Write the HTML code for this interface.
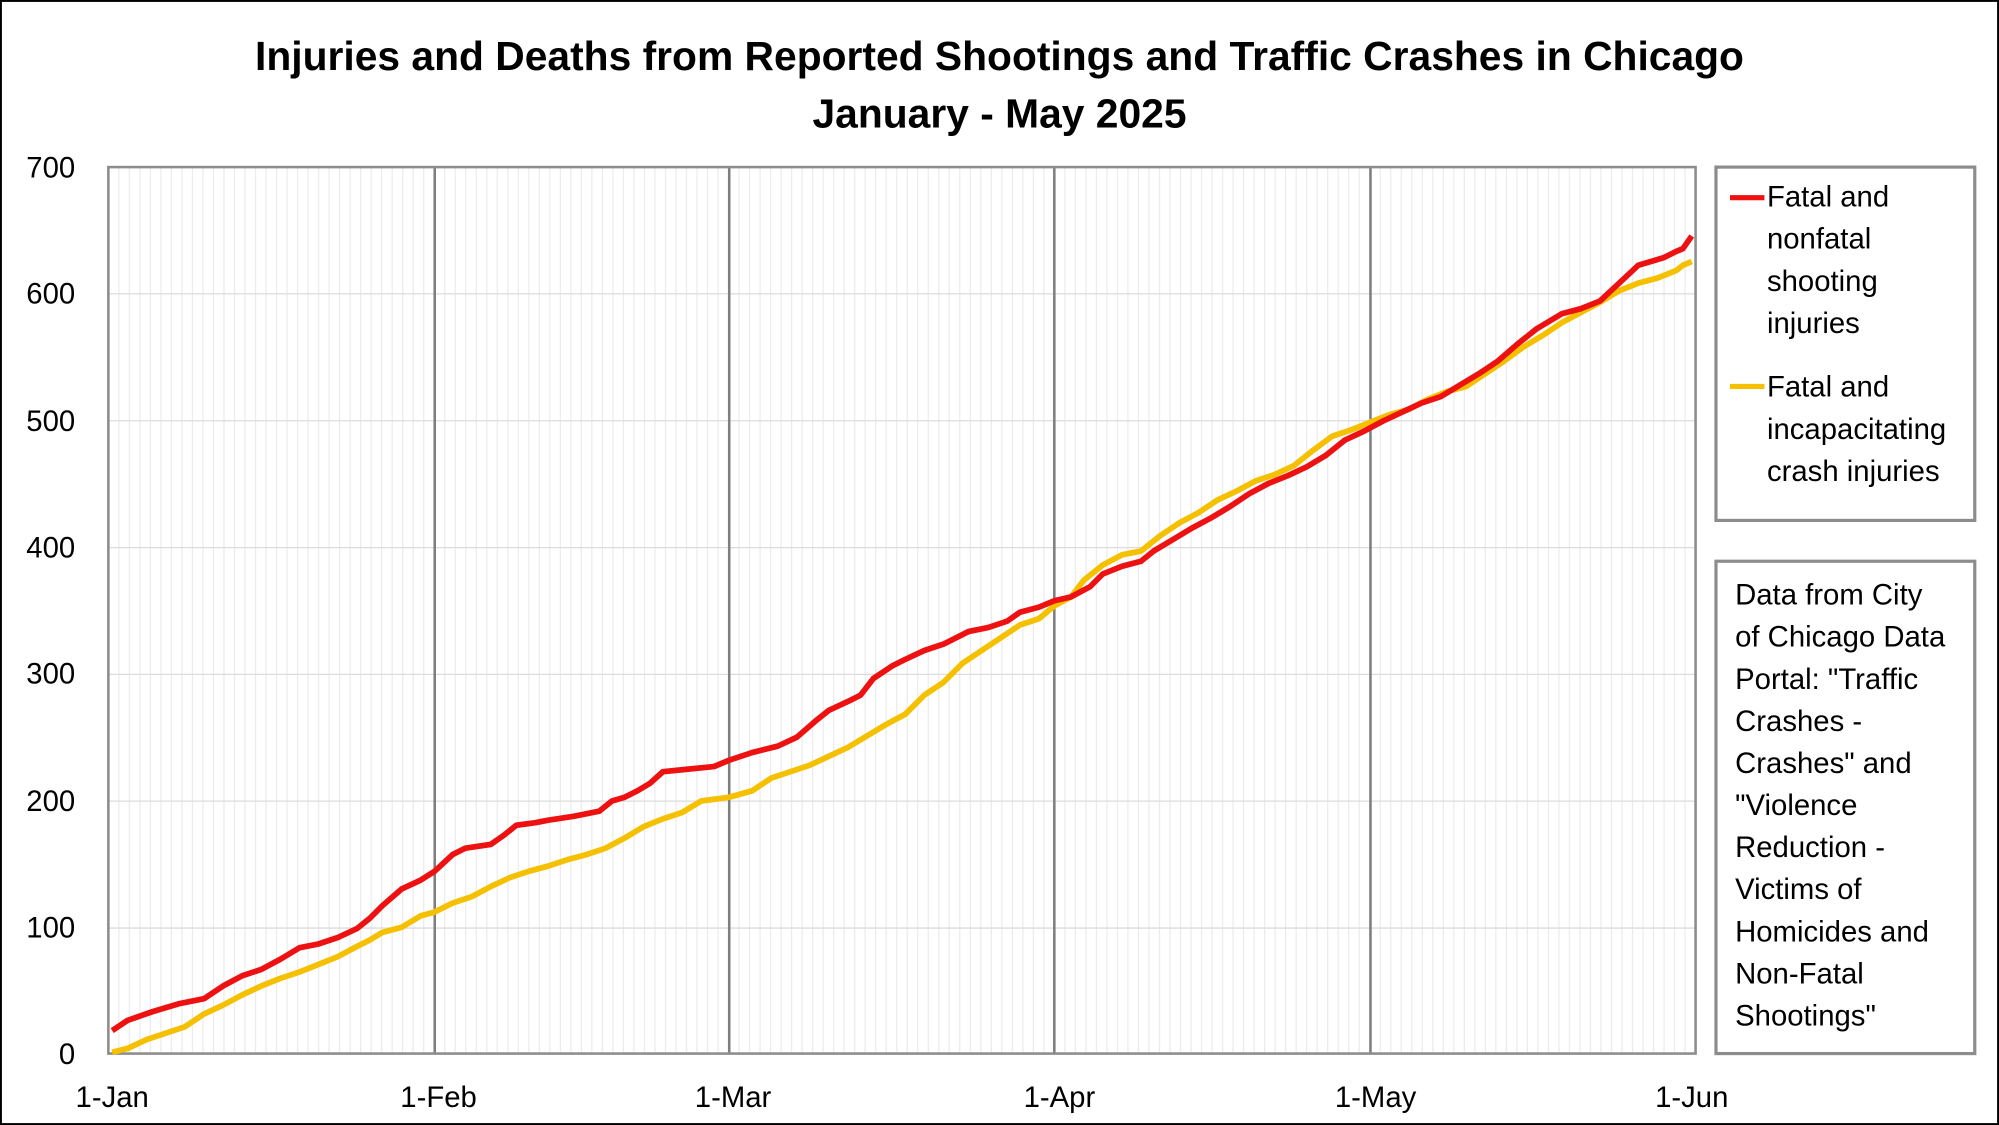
<!DOCTYPE html>
<html><head><meta charset="utf-8"><style>
html,body{margin:0;padding:0;background:#fff;}
svg{display:block;}
text{font-family:"Liberation Sans",Arial,sans-serif;fill:#000;}
</style></head><body>
<svg width="1999" height="1125" viewBox="0 0 1568 882" preserveAspectRatio="none" xmlns="http://www.w3.org/2000/svg">
<rect x="0.5" y="0.5" width="1567" height="881" fill="#fff" stroke="#000" stroke-width="2"/>
<text x="784" y="55" font-size="32" font-weight="bold" text-anchor="middle">Injuries and Deaths from Reported Shootings and Traffic Crashes in Chicago</text>
<text x="784" y="100" font-size="32" font-weight="bold" text-anchor="middle">January - May 2025</text>
<g id="minor" stroke="#ececec" stroke-width="1"></g>
<g stroke="#dcdcdc" stroke-width="1">
<line x1="85" x2="1330" y1="727.6" y2="727.6"/><line x1="85" x2="1330" y1="628.1" y2="628.1"/>
<line x1="85" x2="1330" y1="528.7" y2="528.7"/><line x1="85" x2="1330" y1="429.3" y2="429.3"/>
<line x1="85" x2="1330" y1="329.9" y2="329.9"/><line x1="85" x2="1330" y1="230.4" y2="230.4"/>
</g>
<g stroke="#7f7f7f" stroke-width="2">
<line x1="341" x2="341" y1="131" y2="826"/><line x1="572" x2="572" y1="131" y2="826"/>
<line x1="827" x2="827" y1="131" y2="826"/><line x1="1075" x2="1075" y1="131" y2="826"/>
</g>
<rect x="85" y="131" width="1245" height="695" fill="none" stroke="#8c8c8c" stroke-width="2"/>
<g font-size="23" text-anchor="end">
<text x="59" y="834">0</text><text x="59" y="735">100</text><text x="59" y="636">200</text>
<text x="59" y="536">300</text><text x="59" y="437">400</text><text x="59" y="338">500</text>
<text x="59" y="238">600</text><text x="59" y="139">700</text>
</g>
<g font-size="23" text-anchor="middle">
<text x="88" y="868">1-Jan</text><text x="344" y="868">1-Feb</text><text x="575" y="868">1-Mar</text>
<text x="831" y="868">1-Apr</text><text x="1079" y="868">1-May</text><text x="1327" y="868">1-Jun</text>
</g>
<polyline fill="none" stroke="#f5c000" stroke-width="4.5" stroke-linejoin="round" points="88,825 100,822 115,815 130,810 145,805 160,795 175,788 190,780 205,773 220,767 235,762 250,756 265,750 280,742 290,737 300,731 315,727 330,718 341,715 355,708 370,703 385,695 400,688 415,683 430,679 445,674 460,670 475,665 490,657 505,648 520,642 535,637 550,628 572,625 590,620 605,610 620,605 635,600 650,593 665,586 680,577 695,568 710,560 725,545 740,535 755,520 770,510 785,500 800,490 815,485 827,475 840,468 850,455 865,443 880,435 895,432 910,420 925,410 940,402 955,392 970,385 985,377 1000,372 1015,365 1030,353 1045,342 1060,337 1075,331 1090,325 1105,321 1120,313 1135,307 1150,303 1165,293 1180,283 1195,272 1210,263 1225,253 1240,245 1255,237 1270,228 1285,222 1300,218 1315,212 1320,208 1327,205"/>
<polyline fill="none" stroke="#ee1111" stroke-width="4.5" stroke-linejoin="round" points="88,808 100,800 120,793 140,787 160,783 175,773 190,765 205,760 220,752 235,743 250,740 265,735 280,728 290,720 300,710 315,697 330,690 341,683 355,670 365,665 385,662 395,655 405,647 420,645 430,643 450,640 470,636 480,628 490,625 500,620 510,614 520,605 540,603 560,601 572,596 590,590 610,585 625,578 640,565 650,557 665,550 675,545 685,532 700,522 710,517 725,510 740,505 760,495 775,492 790,487 800,480 815,476 827,471 840,468 855,460 865,450 880,444 895,440 905,432 920,423 935,414 950,406 965,397 980,387 995,379 1010,373 1025,366 1040,357 1055,345 1070,338 1085,330 1100,323 1115,316 1130,311 1145,302 1160,293 1175,283 1190,270 1205,258 1215,252 1225,246 1240,242 1255,236 1270,222 1285,208 1295,205 1305,202 1315,197 1320,195 1327,185"/>
<rect x="1346" y="131" width="203" height="277" fill="#fff" stroke="#8c8c8c" stroke-width="2.5"/>
<line x1="1357" x2="1384" y1="155" y2="155" stroke="#ee1111" stroke-width="4"/>
<line x1="1357" x2="1384" y1="303" y2="303" stroke="#f5c000" stroke-width="4"/>
<g font-size="23">
<text x="1386" y="162">Fatal and</text><text x="1386" y="195">nonfatal</text>
<text x="1386" y="228">shooting</text><text x="1386" y="261">injuries</text>
<text x="1386" y="311">Fatal and</text><text x="1386" y="344">incapacitating</text>
<text x="1386" y="377">crash injuries</text>
</g>
<rect x="1346" y="440" width="203" height="386" fill="#fff" stroke="#8c8c8c" stroke-width="2.5"/>
<g font-size="23">
<text x="1361" y="474">Data from City</text><text x="1361" y="507">of Chicago Data</text>
<text x="1361" y="540">Portal: "Traffic</text><text x="1361" y="573">Crashes -</text>
<text x="1361" y="606">Crashes" and</text><text x="1361" y="639">"Violence</text>
<text x="1361" y="672">Reduction -</text><text x="1361" y="705">Victims of</text>
<text x="1361" y="738">Homicides and</text><text x="1361" y="771">Non-Fatal</text>
<text x="1361" y="804">Shootings"</text>
</g>
</svg>
<script>
var g=document.getElementById('minor'),s='';
for(var i=1;i<151;i++){var x=85+i*(1245/151);s+='<line x1="'+x+'" x2="'+x+'" y1="131" y2="826"/>';}
g.innerHTML=s;
</script>
</body></html>
